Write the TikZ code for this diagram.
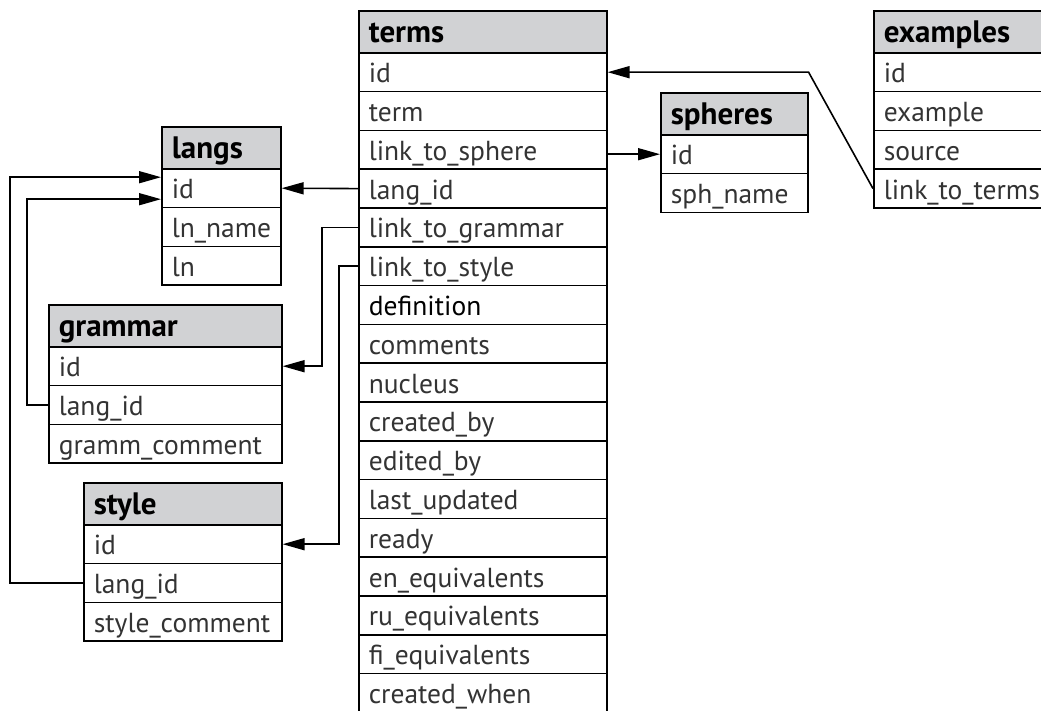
\documentclass[tikz,border=0pt]{standalone}
\usepackage{fontspec}
\setmainfont{PT Sans}
\usetikzlibrary{arrows.meta}
\usetikzlibrary{calc}
\definecolor{headgray}{RGB}{209,210,212}
\tikzset{field/.style={draw,
                       line width=1.6pt,
                       anchor=north west,
                       minimum height=38.8pt,
                       inner xsep=10pt,
                       inner ysep=0pt,
                       text height=21pt,
                       text depth=0pt,
                       text=black!80,
                       font=\fontsize{27.5}{32}\selectfont}}
\tikzset{header/.style={field,
                        fill=headgray,
                        text=black,
                        minimum height=42pt,
                        font=\fontsize{31}{36}\selectfont\bfseries}}
\tikzset{relation/.style={draw,
                          line width=1.6pt,
                          -{Triangle[length=22pt,width=12pt]}}}

\begin{document}
\begin{tikzpicture}[x=1pt,y=-1pt]

      \useasboundingbox (0,0) rectangle (1041,711);
      \clip (0,0) rectangle (1041,711);

      % terms
      \node [header,text width=228pt] (terms0) at (358,10) {terms};
      \foreach \i/\f [evaluate=\i as \y using 52+(\i-1)*38.8] in
      {
      1/id, 2/term, 3/link\_to\_sphere, 4/lang\_id,
      5/link\_to\_grammar, 6/link\_to\_style, 7/{\color{black}definition},
      8/comments, 9/nucleus, 10/created\_by, 11/edited\_by,
      12/last\_updated, 13/ready, 14/en\_equivalents,
      15/ru\_equivalents, 16/fi\_equivalents, 17/created\_when
      }
      {
      \node [field,text width=228pt] (terms\i) at (358,\y) {\f};
      }

      % examples
      \node [header,text width=180pt] (examples0) at (873,10) {examples};
      \foreach \i/\f [evaluate=\i as \y using 52+(\i-1)*38.8] in
      {1/id, 2/example, 3/source, 4/link\_to\_terms}
      {
      \node [field,text width=180pt] (examples\i) at (873,\y) {\f};
      }

      % spheres
      \node [header,text width=127pt] (spheres0) at (660,92) {spheres};
      \foreach \i/\f [evaluate=\i as \y using 134+(\i-1)*38.8] in
      {1/id, 2/sph\_name}
      {
      \node [field,text width=127pt] (spheres\i) at (660,\y) {\f};
      }

      % langs
      \node [header,text width=99pt] (langs0) at (161,126) {langs};
      \foreach \i/\f [evaluate=\i as \y using 168+(\i-1)*38.8] in
      {1/id, 2/ln\_name, 3/ln}
      {
      \node [field,text width=99pt] (langs\i) at (161,\y) {\f};
      }

      % grammar
      \node [header,text width=213pt] (grammar0) at (48,304) {grammar};
      \foreach \i/\f [evaluate=\i as \y using 346+(\i-1)*38.8] in
      {1/id, 2/lang\_id, 3/gramm\_comment}
      {
      \node [field,text width=213pt] (grammar\i) at (48,\y) {\f};
      }

      % style
      \node [header,text width=178pt] (style0) at (83,482) {style};
      \foreach \i/\f [evaluate=\i as \y using 524+(\i-1)*38.8] in
      {1/id, 2/lang\_id, 3/style\_comment}
      {
      \node [field,text width=178pt] (style\i) at (83,\y) {\f};
      }

      % relations
      \draw [relation] (examples4.west) -- (spheres0.east |- terms1.east) -- (terms1.east);
      \draw [relation] (terms3.east |- spheres1.west) -- (spheres1.west);
      \draw [relation] (terms4.west) -- (langs1.east);
      \draw [relation] (terms5.west) -- ++(-36,0) |- (grammar1.east);
      \draw [relation] (terms6.west) -- ++(-19,0) |- (style1.east);
      \draw [relation] (grammar2.west) -- ++(-21,0) |- ([yshift=-11pt]langs1.west);
      \draw [relation] (style2.west) -- ++(-73,0) |- ([yshift=11pt]langs1.west);

\end{tikzpicture}
\end{document}
